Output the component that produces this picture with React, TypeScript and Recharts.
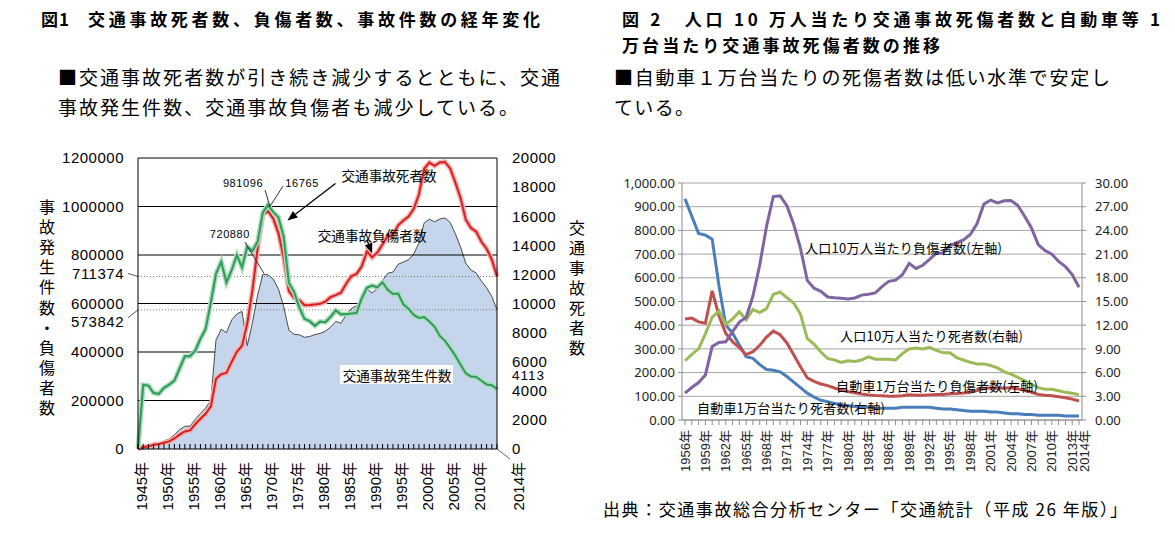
import React from "react";
import {
  ComposedChart,
  Area,
  Line,
  XAxis,
  YAxis,
  ReferenceLine,
  ReferenceDot,
  CartesianGrid,
} from "recharts";

const SANS = "'Liberation Sans', 'Noto Sans CJK JP', sans-serif";
const CJK = "'Noto Sans CJK JP', sans-serif";
const NUM2 = "'Noto Sans', 'Noto Sans CJK JP', sans-serif";

// ---- 図1 data (1945-2014) ----
const fig1Years = [
  1945, 1946, 1947, 1948, 1949, 1950, 1951, 1952, 1953, 1954,
  1955, 1956, 1957, 1958, 1959, 1960, 1961, 1962, 1963, 1964,
  1965, 1966, 1967, 1968, 1969, 1970, 1971, 1972, 1973, 1974,
  1975, 1976, 1977, 1978, 1979, 1980, 1981, 1982, 1983, 1984,
  1985, 1986, 1987, 1988, 1989, 1990, 1991, 1992, 1993, 1994,
  1995, 1996, 1997, 1998, 1999, 2000, 2001, 2002, 2003, 2004,
  2005, 2006, 2007, 2008, 2009, 2010, 2011, 2012, 2013, 2014,
];
// 交通事故発生件数 (left axis)
const fig1Accidents = [
  0, 12504, 14000, 21341, 25113, 33212, 41423, 58487, 80019, 93869,
  93981, 122691, 146833, 168799, 201292, 449917, 493693, 479825, 531966, 557183,
  567286, 425944, 521481, 635056, 720880, 718080, 700290, 659283, 586713, 490452,
  472938, 471041, 460649, 464037, 471573, 476677, 485578, 502261, 526362, 518642,
  552788, 579190, 590723, 614481, 661363, 643097, 662392, 695345, 724675, 729461,
  761794, 771085, 780401, 803878, 850371, 931950, 947253, 936950, 948281, 952709,
  934346, 887267, 832691, 766394, 737637, 725924, 692084, 665157, 629033, 573842,
];
// 交通事故負傷者数 (left axis)
const fig1Injured = [
  0, 8000, 10000, 17609, 20242, 25450, 31274, 43321, 59280, 72390,
  76501, 102072, 124530, 145432, 175951, 289156, 308697, 313813, 359089, 401117,
  425666, 517775, 655377, 828071, 967000, 981096, 949689, 889198, 789948, 651420,
  622467, 613957, 593211, 594116, 596282, 598719, 607346, 626192, 634793, 644321,
  681346, 712330, 722179, 752845, 814832, 790295, 810245, 844003, 878633, 881723,
  922677, 942204, 958925, 990675, 1050399, 1155707, 1181039, 1168029, 1181681, 1183617,
  1157113, 1098564, 1034652, 945504, 911215, 896297, 854613, 825392, 781494, 711374,
];
// 交通事故死者数 (right axis)
const fig1Deaths = [
  0, 4409, 4358, 3848, 3790, 4202, 4429, 4696, 5544, 6374,
  6379, 6751, 7575, 8248, 10079, 12055, 12865, 11445, 12301, 13318,
  12484, 13904, 13618, 14256, 16257, 16765, 16278, 15918, 14574, 11432,
  10792, 9734, 8945, 8783, 8466, 8760, 8719, 9073, 9520, 9262,
  9261, 9317, 9347, 10344, 11086, 11227, 11109, 11452, 10945, 10653,
  10684, 9943, 9642, 9214, 9012, 9073, 8757, 8396, 7768, 7436,
  6937, 6415, 5796, 5209, 4979, 4948, 4691, 4438, 4388, 4113,
];
const fig1LeftTicks = [0, 200000, 400000, 600000, 800000, 1000000, 1200000];
const fig1RightTicks = [0, 2000, 4000, 6000, 8000, 10000, 12000, 14000, 16000, 18000, 20000];

// ---- 図2 data (1956-2014) ----
const fig2Years = [
  1956, 1957, 1958, 1959, 1960, 1961, 1962, 1963, 1964, 1965,
  1966, 1967, 1968, 1969, 1970, 1971, 1972, 1973, 1974, 1975,
  1976, 1977, 1978, 1979, 1980, 1981, 1982, 1983, 1984, 1985,
  1986, 1987, 1988, 1989, 1990, 1991, 1992, 1993, 1994, 1995,
  1996, 1997, 1998, 1999, 2000, 2001, 2002, 2003, 2004, 2005,
  2006, 2007, 2008, 2009, 2010, 2011, 2012, 2013, 2014,
];
// 人口10万人当たり負傷者数 (left)
const fig2InjuredPerPop = [
  113, 137, 158, 190, 310, 327, 330, 373, 413, 433,
  523, 654, 817, 943, 946, 904, 826, 724, 589, 556,
  543, 519, 516, 514, 511, 515, 527, 531, 536, 563,
  585, 590, 613, 661, 639, 653, 678, 704, 705, 735,
  748, 760, 783, 829, 911, 928, 916, 925, 926, 905,
  860, 810, 740, 715, 700, 669, 647, 614, 560,
];
// 人口10万人当たり死者数 (right)
const fig2DeathsPerPop = [
  7.5, 8.3, 9.0, 10.9, 13.0, 13.8, 12.1, 12.8, 13.7, 12.7,
  14.0, 13.6, 14.1, 15.9, 16.2, 15.5, 14.8, 13.4, 10.3, 9.6,
  8.6, 7.8, 7.6, 7.3, 7.5, 7.4, 7.6, 8.0, 7.7, 7.7,
  7.7, 7.6, 8.4, 9.0, 9.1, 9.0, 9.2, 8.8, 8.5, 8.5,
  7.9, 7.6, 7.3, 7.1, 7.1, 6.9, 6.6, 6.1, 5.8, 5.4,
  5.0, 4.5, 4.1, 3.9, 3.9, 3.7, 3.5, 3.4, 3.2,
];
// 自動車1万台当たり負傷者数 (left)
const fig2InjuredPerVehicle = [
  426, 430, 414, 408, 545, 440, 365, 330, 305, 276,
  288, 315, 350, 375, 360, 325, 275, 225, 178, 163,
  152, 145, 135, 126, 120, 115, 110, 106, 103, 102,
  100, 100, 102, 106, 104, 104, 106, 108, 108, 111,
  112, 114, 117, 124, 133, 136, 134, 135, 135, 132,
  125, 117, 108, 104, 102, 98, 94, 88, 80,
];
// 自動車1万台当たり死者数 (right)
const fig2DeathsPerVehicle = [
  28.0, 25.8, 23.6, 23.4, 22.9, 17.0, 12.0, 11.0, 9.5, 8.0,
  7.8, 7.0, 6.4, 6.3, 6.1, 5.5, 4.8, 4.1, 3.4, 2.9,
  2.5, 2.3, 2.1, 1.9, 1.8, 1.7, 1.6, 1.6, 1.5, 1.5,
  1.5, 1.5, 1.6, 1.6, 1.6, 1.6, 1.6, 1.5, 1.4, 1.4,
  1.3, 1.2, 1.1, 1.1, 1.1, 1.0, 1.0, 0.9, 0.8, 0.8,
  0.7, 0.7, 0.6, 0.6, 0.6, 0.6, 0.5, 0.5, 0.5,
];
const fig2LeftTicks = [0, 100, 200, 300, 400, 500, 600, 700, 800, 900, 1000];
const fig2RightTicks = [0, 3, 6, 9, 12, 15, 18, 21, 24, 27, 30];
const fig2LabelYears = [
  1956, 1959, 1962, 1965, 1968, 1971, 1974, 1977, 1980, 1983,
  1986, 1989, 1992, 1995, 1998, 2001, 2004, 2007, 2010, 2013, 2014,
];

const fig1Data = fig1Years.map((year, i) => ({
  year,
  accidents: fig1Accidents[i],
  injured: fig1Injured[i],
  deaths: fig1Deaths[i],
}));

const fig2Data = fig2Years.map((year, i) => ({
  year,
  injPop: fig2InjuredPerPop[i],
  deathPop: fig2DeathsPerPop[i],
  injVeh: fig2InjuredPerVehicle[i],
  deathVeh: fig2DeathsPerVehicle[i],
}));

const valueAt = (arr: number[], year: number) => arr[fig1Years.indexOf(year)];

function Arrow({ x1, y1, x2, y2 }: any) {
  const a = Math.atan2(y2 - y1, x2 - x1);
  const L = 10;
  const W = 4;
  const bx = x2 - L * Math.cos(a);
  const by = y2 - L * Math.sin(a);
  const pts = `${x2},${y2} ${bx - W * Math.sin(a)},${by + W * Math.cos(a)} ${bx + W * Math.sin(a)},${by - W * Math.cos(a)}`;
  return (
    <g>
      <line x1={x1} y1={y1} x2={bx} y2={by} stroke="#000" strokeWidth={1.3} />
      <polygon points={pts} fill="#000" />
    </g>
  );
}

const Fig1YearTick = (props: any) => {
  const { x, y, payload } = props;
  const v = payload.value;
  if (v === 2014) {
    return (
      <g>
        <line x1={x} y1={y} x2={x + 13} y2={y + 10} stroke="#666" />
        <text
          transform={`translate(${x + 21},${y + 13}) rotate(-90)`}
          textAnchor="end"
          dominantBaseline="central"
          fontSize={15}
          fontFamily={SANS}
          fill="#000"
        >
          {v}年
        </text>
      </g>
    );
  }
  if (v % 5 !== 0) return <g />;
  return (
    <text
      transform={`translate(${x + 3},${y + 13}) rotate(-90)`}
      textAnchor="end"
      dominantBaseline="central"
      fontSize={15}
      fontFamily={SANS}
      fill="#000"
    >
      {v}年
    </text>
  );
};

const SideValueLabel = (props: any) => {
  const { viewBox, text, textDy } = props;
  const { x, y } = viewBox;
  return (
    <g>
      <line x1={x - 10} y1={y + textDy + (textDy > 0 ? -4 : 0)} x2={x} y2={y} stroke="#555" />
      <text
        x={x - 14}
        y={y + textDy}
        textAnchor="end"
        dominantBaseline="central"
        fontSize={15}
        fontFamily={SANS}
        letterSpacing={0.5}
        fill="#000"
      >
        {text}
      </text>
    </g>
  );
};

const smallNum = { fontSize: 11, fontFamily: SANS, letterSpacing: 0.6, fill: "#000" };

function Fig1Chart() {
  return (
    <ComposedChart
      width={600}
      height={533}
      data={fig1Data}
      margin={{ top: 158, right: 0, bottom: 0, left: 0 }}
    >
      <XAxis
        dataKey="year"
        type="number"
        domain={[1945, 2014]}
        ticks={fig1Years}
        interval={0}
        height={84}
        tickSize={-5}
        tickMargin={5}
        stroke="#000"
        tick={<Fig1YearTick />}
      />
      <YAxis
        yAxisId="left"
        domain={[0, 1200000]}
        ticks={fig1LeftTicks}
        interval={0}
        width={138}
        tickLine={false}
        tickMargin={8}
        stroke="#000"
        tick={{ fill: "#000", fontSize: 15, fontFamily: SANS, letterSpacing: 0.5 }}
      />
      <YAxis
        yAxisId="right"
        orientation="right"
        domain={[0, 20000]}
        ticks={fig1RightTicks}
        interval={0}
        width={103}
        tickLine={false}
        tickMargin={9}
        stroke="#000"
        tick={{ fill: "#000", fontSize: 15, fontFamily: SANS, letterSpacing: 0.5 }}
      />
      <ReferenceLine yAxisId="left" y={1200000} stroke="#000" />
      <ReferenceLine yAxisId="left" y={1000000} stroke="#000" />
      <ReferenceLine yAxisId="left" y={800000} stroke="#000" />
      <ReferenceLine
        yAxisId="left"
        segment={[{ x: 1945, y: 600000 }, { x: 1987.7, y: 600000 }]}
        stroke="#000"
      />
      <ReferenceLine
        yAxisId="left"
        segment={[{ x: 1945, y: 400000 }, { x: 1959.8, y: 400000 }]}
        stroke="#000"
      />
      <ReferenceLine
        yAxisId="left"
        segment={[{ x: 1945, y: 200000 }, { x: 1959, y: 200000 }]}
        stroke="#000"
      />
      <Area
        yAxisId="left"
        dataKey="accidents"
        type="linear"
        fill="#c5d6ec"
        fillOpacity={1}
        stroke="#4a4a4a"
        strokeWidth={1}
        isAnimationActive={false}
      />
      <ReferenceLine
        yAxisId="left"
        y={valueAt(fig1Injured, 2014)}
        stroke="#777"
        strokeDasharray="1 2"
        label={<SideValueLabel text={String(valueAt(fig1Injured, 2014))} textDy={-3} />}
      />
      <ReferenceLine
        yAxisId="left"
        y={valueAt(fig1Accidents, 2014)}
        stroke="#777"
        strokeDasharray="1 2"
        label={<SideValueLabel text={String(valueAt(fig1Accidents, 2014))} textDy={12} />}
      />
      <Line
        yAxisId="left"
        dataKey="injured"
        type="linear"
        stroke="#f4b0b0"
        strokeWidth={5}
        dot={false}
        activeDot={false}
        isAnimationActive={false}
      />
      <Line
        yAxisId="left"
        dataKey="injured"
        type="linear"
        stroke="#d81e1e"
        strokeWidth={2}
        dot={false}
        activeDot={false}
        isAnimationActive={false}
      />
      <Line
        yAxisId="right"
        dataKey="deaths"
        type="linear"
        stroke="#aadcb8"
        strokeWidth={5}
        dot={false}
        activeDot={false}
        isAnimationActive={false}
      />
      <Line
        yAxisId="right"
        dataKey="deaths"
        type="linear"
        stroke="#2e9a5c"
        strokeWidth={2}
        dot={false}
        activeDot={false}
        isAnimationActive={false}
      />
      <ReferenceDot
        yAxisId="left"
        x={1970}
        y={valueAt(fig1Injured, 1970)}
        shape={(p: any) => (
          <g>
            <line x1={p.cx - 3} y1={p.cy - 21} x2={p.cx + 2} y2={p.cy - 4} stroke="#333" />
            <text x={p.cx - 25} y={p.cy - 28} textAnchor="middle" dominantBaseline="central" {...smallNum}>
              {valueAt(fig1Injured, 1970)}
            </text>
          </g>
        )}
      />
      <ReferenceDot
        yAxisId="right"
        x={1970}
        y={valueAt(fig1Deaths, 1970)}
        shape={(p: any) => (
          <g>
            <line x1={p.cx + 15} y1={p.cy - 19} x2={p.cx + 2} y2={p.cy + 1} stroke="#333" />
            <text x={p.cx + 34} y={p.cy - 22} textAnchor="middle" dominantBaseline="central" {...smallNum}>
              {valueAt(fig1Deaths, 1970)}
            </text>
          </g>
        )}
      />
      <ReferenceDot
        yAxisId="left"
        x={1969}
        y={valueAt(fig1Accidents, 1969)}
        shape={(p: any) => (
          <g>
            <line x1={p.cx - 18} y1={p.cy - 32} x2={p.cx + 1} y2={p.cy - 1} stroke="#333" />
            <text x={p.cx - 33} y={p.cy - 40} textAnchor="middle" dominantBaseline="central" {...smallNum}>
              {valueAt(fig1Accidents, 1969)}
            </text>
          </g>
        )}
      />
      <ReferenceDot
        yAxisId="right"
        x={2014}
        y={valueAt(fig1Deaths, 2014)}
        shape={(p: any) => (
          <text
            x={p.cx + 15}
            y={p.cy - 14}
            dominantBaseline="central"
            fontSize={13.5}
            fontFamily={SANS}
            letterSpacing={1}
            fill="#000"
          >
            {valueAt(fig1Deaths, 2014)}
          </text>
        )}
      />
      <ReferenceDot
        yAxisId="right"
        x={1972}
        y={valueAt(fig1Deaths, 1972)}
        shape={(p: any) => (
          <g>
            <Arrow x1={p.cx + 57} y1={p.cy - 34} x2={p.cx + 9} y2={p.cy + 3} />
            <text x={p.cx + 63} y={p.cy - 42} dominantBaseline="central" fontSize={13.6} fontFamily={CJK} fill="#000">
              交通事故死者数
            </text>
          </g>
        )}
      />
      <ReferenceDot
        yAxisId="left"
        x={1990}
        y={valueAt(fig1Injured, 1990)}
        shape={(p: any) => (
          <g>
            <Arrow x1={p.cx - 5} y1={p.cy - 17} x2={p.cx} y2={p.cy - 4} />
            <text x={p.cx} y={p.cy - 22} textAnchor="middle" dominantBaseline="central" fontSize={13.6} fontFamily={CJK} fill="#000">
              交通事故負傷者数
            </text>
          </g>
        )}
      />
    </ComposedChart>
  );
}

const Fig2YearTick = (props: any) => {
  const { x, y, payload } = props;
  if (!fig2LabelYears.includes(payload.value)) return <g />;
  // the last label sits a little to the right, as in the original
  const dx = payload.value === 2014 ? 5 : 0;
  return (
    <text
      transform={`translate(${x + dx},${y + 2}) rotate(-90)`}
      textAnchor="end"
      dominantBaseline="central"
      fontSize={13}
      fontFamily={SANS}
      fill="#222"
    >
      {payload.value}年
    </text>
  );
};

const fmt2 = (v: number) =>
  v.toLocaleString("en-US", { minimumFractionDigits: 2, maximumFractionDigits: 2 });

function Fig2Chart() {
  return (
    <ComposedChart
      width={575}
      height={533}
      data={fig2Data}
      margin={{ top: 183, right: 0, bottom: 0, left: 0 }}
    >
      <CartesianGrid yAxisId="left" vertical={false} stroke="#a6a6a6" />
      <XAxis
        dataKey="year"
        ticks={fig2Years}
        interval={0}
        height={113}
        padding={{ left: 3, right: 3 }}
        tickSize={5}
        tickMargin={3}
        stroke="#8c8c8c"
        tick={<Fig2YearTick />}
      />
      <YAxis
        yAxisId="left"
        domain={[0, 1000]}
        ticks={fig2LeftTicks}
        interval={0}
        width={82}
        tickSize={4}
        tickMargin={3}
        stroke="#8c8c8c"
        tickFormatter={fmt2}
        tick={{ fill: "#222", fontSize: 13, fontFamily: NUM2 }}
      />
      <YAxis
        yAxisId="right"
        orientation="right"
        domain={[0, 30]}
        ticks={fig2RightTicks}
        interval={0}
        width={93}
        tickSize={4}
        tickMargin={9}
        stroke="#8c8c8c"
        tickFormatter={fmt2}
        tick={{ fill: "#222", fontSize: 13, fontFamily: NUM2 }}
      />
      <Line yAxisId="right" dataKey="deathVeh" stroke="#4a7ebb" strokeWidth={3} dot={false} activeDot={false} isAnimationActive={false} />
      <Line yAxisId="left" dataKey="injVeh" stroke="#c0504d" strokeWidth={3} dot={false} activeDot={false} isAnimationActive={false} />
      <Line yAxisId="right" dataKey="deathPop" stroke="#9bbb59" strokeWidth={3} dot={false} activeDot={false} isAnimationActive={false} />
      <Line yAxisId="left" dataKey="injPop" stroke="#8064a2" strokeWidth={3} dot={false} activeDot={false} isAnimationActive={false} />
    </ComposedChart>
  );
}

const TextLine = ({ x, y, w, size = 17, bold = false, children }: any) => (
  <text
    x={x}
    y={y}
    textLength={w}
    lengthAdjust="spacing"
    fontSize={size}
    fontWeight={bold ? 700 : 400}
    fontFamily={CJK}
    fill="#000"
  >
    {children}
  </text>
);

function Overlay() {
  return (
    <svg
      width={1175}
      height={533}
      style={{ position: "absolute", left: 0, top: 0, pointerEvents: "none" }}
    >
      {/* 図1 title + text */}
      <TextLine x={41} y={26} w={28} bold>図 1</TextLine>
      <TextLine x={88} y={26} w={452} bold>交通事故死者数、負傷者数、事故件数の経年変化</TextLine>
      <TextLine x={58} y={85} w={502} size={19}>■交通事故死者数が引き続き減少するとともに、交通</TextLine>
      <TextLine x={58} y={115} w={460} size={19}>事故発生件数、交通事故負傷者も減少している。</TextLine>

      {/* 図2 title + text */}
      <TextLine x={622} y={26} w={538} bold>図 2　人口 10 万人当たり交通事故死傷者数と自動車等 1</TextLine>
      <TextLine x={622} y={52} w={318} bold>万台当たり交通事故死傷者数の推移</TextLine>
      <TextLine x={614} y={85} w={496} size={19}>■自動車１万台当たりの死傷者数は低い水準で安定し</TextLine>
      <TextLine x={614} y={115} w={80} size={19}>ている。</TextLine>

      {/* vertical axis titles fig1 */}
      <text
        x={47}
        y={199}
        style={{ writingMode: "vertical-rl" }}
        fontSize={16}
        letterSpacing={4.1}
        fontFamily={CJK}
        fill="#000"
      >
        事故発生件数・負傷者数
      </text>
      <text
        x={577}
        y={220}
        style={{ writingMode: "vertical-rl" }}
        fontSize={16}
        letterSpacing={4}
        fontFamily={CJK}
        fill="#000"
      >
        交通事故死者数
      </text>

      {/* series label fig1 */}
      <rect x={340} y={365} width={113} height={19} fill="#fff" />
      <text x={397} y={375} textAnchor="middle" dominantBaseline="central" fontSize={13.6} fontFamily={CJK} fill="#000">
        交通事故発生件数
      </text>

      {/* series labels fig2 */}
      <text x={805} y={247} textLength={197} lengthAdjust="spacing" dominantBaseline="central" fontSize={13} fontFamily={CJK} fill="#000">
        人口10万人当たり負傷者数(左軸)
      </text>
      <text x={840} y={335} textLength={183} lengthAdjust="spacing" dominantBaseline="central" fontSize={13} fontFamily={CJK} fill="#000">
        人口10万人当たり死者数(右軸)
      </text>
      <text x={836} y={385} textLength={202} lengthAdjust="spacing" dominantBaseline="central" fontSize={13} fontFamily={CJK} fill="#000">
        自動車1万台当たり負傷者数(左軸)
      </text>
      <text x={697} y={407} textLength={188} lengthAdjust="spacing" dominantBaseline="central" fontSize={13} fontFamily={CJK} fill="#000">
        自動車1万台当たり死者数(右軸)
      </text>

      {/* source */}
      <TextLine x={603} y={516} w={524} size={17}>出典：交通事故総合分析センター「交通統計（平成 26 年版）」</TextLine>
    </svg>
  );
}

export default function App() {
  return (
    <div
      style={{
        position: "absolute",
        left: 0,
        top: 0,
        width: 1175,
        height: 533,
        background: "#fff",
        overflow: "hidden",
      }}
    >
      <div style={{ position: "absolute", left: 0, top: 0 }}>
        <Fig1Chart />
      </div>
      <div style={{ position: "absolute", left: 600, top: 0 }}>
        <Fig2Chart />
      </div>
      <Overlay />
    </div>
  );
}
